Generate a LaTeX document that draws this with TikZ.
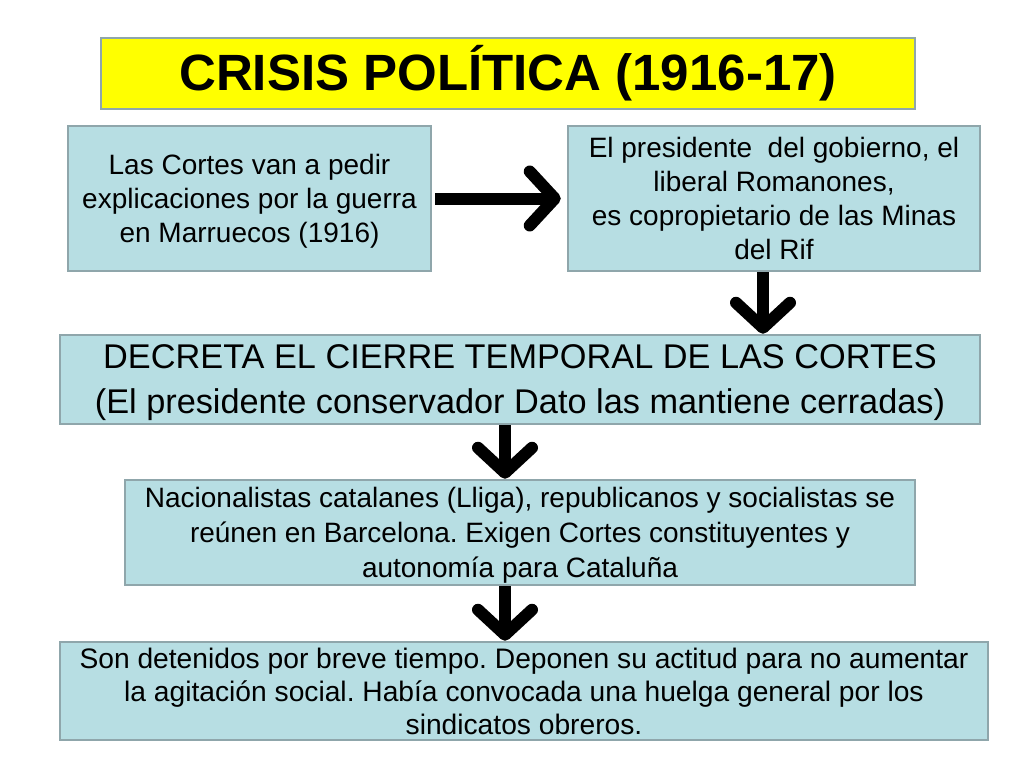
\documentclass[tikz,border=0pt]{standalone}
\usepackage{fontspec}
\setmainfont{Liberation Sans}
\usetikzlibrary{arrows.meta}
\frenchspacing
\definecolor{cajaazul}{HTML}{B7DEE3}
\definecolor{bordegris}{HTML}{8FA6AB}
\definecolor{amarillo}{HTML}{FFFF00}
\tikzset{
  caja/.style={draw=bordegris, line width=2.5pt, fill=cajaazul, align=center, inner sep=0pt},
  titulo/.style={draw=bordegris, line width=2.5pt, fill=amarillo, inner sep=0pt, font=\fontsize{51}{60}\selectfont\bfseries},
  flecha/.style={line width=12pt, -{Straight Barb[round, length=25pt, width=54pt]}}
}
\newcommand{\texto}{\fontsize{28}{34}\selectfont}
\begin{document}
\begin{tikzpicture}[x=1pt, y=-1pt]
  \useasboundingbox (0,0) rectangle (1024,768);
  \node[titulo, minimum width=814pt, minimum height=71pt] (tit) at (508,73.5) {CRISIS POLÍTICA (1916-17)};
  \node[caja, minimum width=363pt, minimum height=145pt, font=\texto, text depth=-2pt] (cortes) at (249.5,198.5)
    {Las Cortes van a pedir\\explicaciones por la guerra\\en Marruecos (1916)};
  \node[caja, minimum width=412pt, minimum height=145pt, font=\texto, text depth=-3pt] (presi) at (774,198.5)
    {El presidente\ \ del gobierno, el\\liberal Romanones,\\es copropietario de las Minas\\del Rif};
  \node[caja, minimum width=920pt, minimum height=89pt, font=\fontsize{34.3}{45}\selectfont, text depth=-5pt] (cierre) at (520,379.5)
    {DECRETA EL CIERRE TEMPORAL DE LAS CORTES\\(El presidente conservador Dato las mantiene cerradas)};
  \node[caja, minimum width=790pt, minimum height=105pt, font=\fontsize{28}{35}\selectfont, text depth=-4pt] (nacio) at (520,532.5)
    {Nacionalistas catalanes (Lliga), republicanos y socialistas se\\reúnen en Barcelona. Exigen Cortes constituyentes y\\autonomía para Cataluña};
  \node[caja, minimum width=928pt, minimum height=98pt, font=\fontsize{28.2}{33}\selectfont] (deten) at (524,691)
    {Son detenidos por breve tiempo. Deponen su actitud para no aumentar\\la agitación social. Había convocada una huelga general por los\\sindicatos obreros.};
  % flechas
  \draw[flecha, shorten <=3pt, shorten >=6pt] (cortes) -- (presi);
  \draw[flecha] ([xshift=-11pt]presi.south) -- ([xshift=-11pt]presi.south |- cierre.north);
  \draw[flecha] ([xshift=-15pt]cierre.south) -- ([xshift=-15pt]cierre.south |- nacio.north);
  \draw[flecha] ([xshift=-15pt]nacio.south) -- ([xshift=-19pt]deten.north);
\end{tikzpicture}
\end{document}
